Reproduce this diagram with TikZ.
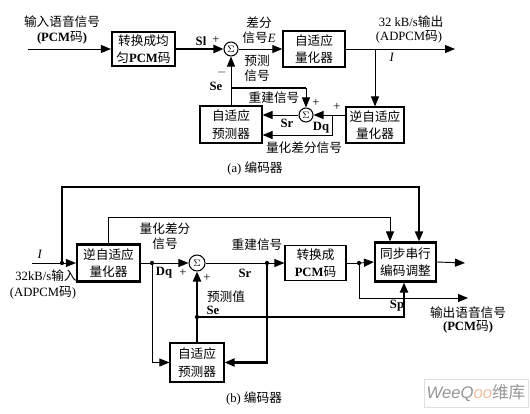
\documentclass[tikz,border=0pt]{standalone}
\usepackage{fontspec}
\setmainfont{Liberation Serif}
\newfontfamily\cjk{Noto Sans CJK SC}
\newfontfamily\wmfont{Liberation Sans}
\newcommand\zhs[1]{{\cjk #1}}
\usetikzlibrary{arrows.meta,calc}
\definecolor{wmgray}{RGB}{150,150,150}
\definecolor{wmpeach}{RGB}{240,190,160}
\begin{document}
\begin{tikzpicture}[x=0.75pt,y=-0.75pt,
  every node/.style={inner sep=0pt, font=\fontsize{9.5}{11.5}\selectfont},
  box/.style={draw, line width=0.9pt, align=center, inner sep=1pt, font=\fontsize{9.5}{13}\selectfont},
  heavy/.style={line width=1.6pt},
  sumc/.style={circle, draw, line width=0.8pt, minimum size=10.5pt, inner sep=0pt, font=\fontsize{7}{8}\selectfont},
  conn/.style={line width=0.7pt},
  arr/.style={conn, -{Triangle[length=7.5pt,width=6pt]}},
  lab/.style={font=\fontsize{9.5}{11.5}\selectfont\cjk},
  sig/.style={font=\fontsize{9.5}{11}\selectfont\bfseries},
  dot/.style={fill=black}
]
\useasboundingbox (0,0) rectangle (530,413);
\fill[white] (0,0) rectangle (530,413);

% ---------------- (a) ----------------
\node[box, heavy, minimum width=47.25pt, minimum height=25.5pt] (box1) at (143.5,49) {\zhs{转换成均}\\\zhs{匀}\textbf{PCM}\zhs{码}};
\node[sumc] (sum1) at (231,49) {$\Sigma$};
\node[box, line width=1pt, minimum width=46.5pt, minimum height=27pt] (box2) at (314,49) {\zhs{自适应}\\\zhs{量化器}};
\node[box, minimum width=43.5pt, minimum height=27pt] (box3) at (375,125) {\zhs{逆自适应}\\\zhs{量化器}};
\node[box, minimum width=46.5pt, minimum height=27.75pt] (box4) at (231,124.5) {\zhs{自适应}\\\zhs{预测器}};
\node[sumc] (sum2) at (306,115) {$\Sigma$};

\coordinate (ain) at (28,49);
\coordinate (aout) at (455,49);
\coordinate (j1) at (box3.north |- box2.east);
\coordinate (jse) at (231,88);
\coordinate (jdq) at (332,115);
\coordinate (jdq2) at (332,135);

\draw[arr] (ain) -- (box1.west);
\draw[arr, heavy] (box1.east) -- (sum1.west);
\draw[arr] (sum1.east) -- (box2.west);
\draw[arr] (box2.east) -- (aout);
\draw[arr] (j1) -- (box3.north);
\draw[arr] (box4.north) -- (sum1.south);
\draw[heavy] (jse) -- (sum2.north |- jse);
\draw[arr] (sum2.north |- jse) -- (sum2.north);
\draw[arr] (box3.west |- sum2.east) -- (sum2.east);
\draw[arr] (jdq) -- (jdq2) -- (box4.east |- jdq2);
\draw[arr] (sum2.west) -- (box4.east |- sum2.west);

\node[lab] (la1) at (62,22) {输入语音信号};
\node (la2) at (62,38) {\textbf{(PCM}\zhs{码}\textbf{)}};
\node[sig] (la3) at (201,41) {Sl};
\node (la4) at (216,40) {+};
\node[align=center, font=\fontsize{9.5}{11.5}\selectfont] (la5) at (259,30) {\zhs{差分}\\\zhs{信号}\textit{E}};
\node[lab, align=center] (la6) at (257,68) {预测\\信号};
\node (la7) at (222,73) {$-$};
\node[sig] (la8) at (216,86) {Se};
\node (la9) at (411,22) {32 kB/s\zhs{输出}};
\node (la10) at (409,37) {(ADPCM\zhs{码})};
\node (la11) at (392,57) {\textit{I}};
\node[lab] (la12) at (274,98) {重建信号};
\node (la13) at (316,103) {+};
\node (la14) at (337,107) {+};
\node[sig] (la15) at (287,123) {Sr};
\node[sig] (la16) at (321,128) {Dq};
\node[lab] (la17) at (304,148) {量化差分信号};
\node (la18) at (255,168) {(a)\ \zhs{编码器}};

% ---------------- (b) ----------------
\node[box, heavy, minimum width=47.25pt, minimum height=27.75pt] (box5) at (108.5,263) {\zhs{逆自适应}\\\zhs{量化器}};
\node[box, minimum width=40.5pt, minimum height=29.25pt] (box6) at (197,362.5) {\zhs{自适应}\\\zhs{预测器}};
\node[box, heavy, minimum width=45.75pt, minimum height=29.25pt] (box7) at (405.5,262) {\zhs{同步串行}\\\zhs{编码调整}};
\node[box, minimum width=45.75pt, minimum height=26.25pt] (box8) at (315.5,263) {\zhs{转换成}\\\textbf{PCM}\zhs{码}};
\node[sumc, minimum size=12pt] (sum3) at (197,263) {$\Sigma$};

\coordinate (ain2) at (32,263);
\coordinate (d1) at (62,263);
\coordinate (t2) at (419,187);
\coordinate (s2) at (390,217);
\coordinate (d2) at (152,263);
\coordinate (d3) at (267,263);
\coordinate (d4) at (197,317);
\coordinate (p1) at (404,317);
\coordinate (d5) at (359,263);
\coordinate (bout2) at (468,298);
\coordinate (bout3) at (465,263);

\draw[conn] (ain2) -- (d1);
\draw[arr] (d1) -- (box5.west);
\draw[arr, heavy] (d1) |- (t2) -- (t2 |- box7.north);
\draw[arr] (box5.north) |- (s2) -- (s2 |- box7.north);
\draw[conn] (box5.east) -- (d2);
\draw[arr] (d2) -- (sum3.west);
\draw[arr] (d2) |- (box6.west);
\draw[arr, heavy] (box6.north) -- (sum3.south);
\draw[arr, heavy] (d4) -- (p1) -- (p1 |- box7.south);
\draw[conn] (sum3.east) -- (d3);
\draw[arr] (d3) -- (box8.west);
\draw[arr, heavy] (d3) |- (box6.east);
\draw[conn] (box8.east) -- (d5);
\draw[arr] (d5) -- (box7.west);
\draw[arr] (d5) |- (bout2);
\draw[arr] (box7.east) -- (bout3);

\foreach \p in {d1,d2,d3,d4,d5} \fill[dot] (\p) circle (1.6pt);

\node (lb1) at (40,254) {\textit{I}};
\node (lb2) at (46,276) {32kB/s\zhs{输入}};
\node (lb3) at (43,293) {(ADPCM\zhs{码})};
\node[lab, align=center] (lb4) at (165,236) {量化差分\\信号};
\node[sig] (lb5) at (164,273) {Dq};
\node (lb6) at (183,273) {+};
\node (lb7) at (207,278) {+};
\node[lab] (lb8) at (257,245) {重建信号};
\node[sig] (lb9) at (245,273) {Sr};
\node[lab] (lb10) at (226,297) {预测值};
\node[sig] (lb11) at (213,310) {Se};
\node[sig] (lb12) at (397,306) {Sp};
\node[lab] (lb13) at (468,313) {输出语音信号};
\node (lb14) at (468,327) {\textbf{(PCM}\zhs{码}\textbf{)}};
\node (lb15) at (254,398) {(b)\ \zhs{编码器}};

\node[draw=black!12, line width=0.6pt, fill=white, minimum width=78pt, minimum height=21pt, text=wmgray, font=\fontsize{12.5}{13}\selectfont\wmfont] (wm) at (476,393) {\textit{Wee}\textit{Q}\textcolor{wmpeach}{\textit{oo}}\zhs{维库}};
\end{tikzpicture}
\end{document}
